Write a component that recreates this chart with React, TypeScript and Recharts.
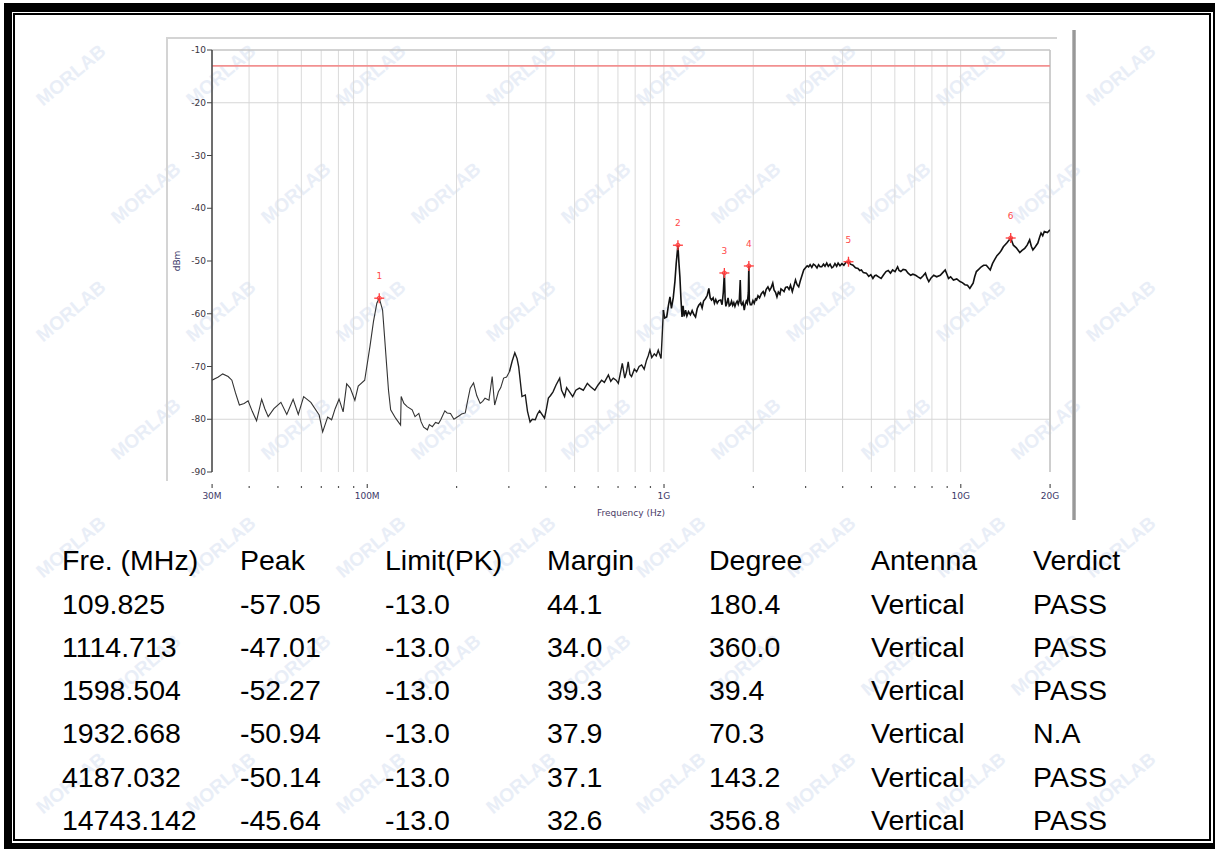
import React from "react";
import {
  ComposedChart,
  Line,
  Scatter,
  XAxis,
  YAxis,
  CartesianGrid,
  ReferenceLine,
  Label,
} from "recharts";

// spectrum trace: [frequency MHz, level dBm]
const TRACE_LOW: [number, number][] = [
  [30, -72.6], [31.5, -72.0], [32.6, -71.4], [34, -71.9], [35, -72.6], [36, -75.0],
  [37.1, -77.3], [38.5, -77.0], [39.7, -76.5], [41, -78.5], [42.4, -80.3], [44.1, -76.2],
  [45.2, -78.0], [46.4, -79.5], [48.5, -78.0], [51.2, -76.8], [53.6, -79.1], [56.3, -76.2],
  [58.6, -79.1], [61.1, -75.7], [64.6, -76.8], [68.9, -79.2], [70.8, -82.4], [73.6, -79.6],
  [75.9, -80.1], [78, -78.0], [80.4, -76.2], [83, -78.6], [85.3, -73.3], [87.7, -74.1],
  [90.9, -76.4], [93.3, -73.7], [98.1, -72.6], [102.2, -66.2], [105, -61.5], [107.8, -58.0],
  [109.825, -57.05], [112.7, -59.3], [114.5, -64.5], [116.4, -70.0], [118, -74.5], [120, -78.2],
  [124.7, -79.8], [129.6, -81.1], [130.2, -75.7], [133, -77.0], [136.4, -77.6], [141.8, -78.2],
  [145, -79.5], [149.3, -78.9], [152, -80.5], [155, -81.5], [159.6, -82.0], [162, -81.0],
  [165.8, -81.4], [170, -80.6], [174, -80.8], [177, -80.1], [182.7, -78.4], [186, -78.8],
  [190.9, -78.9], [196, -80.0], [203.6, -79.4], [208, -79.0], [214.1, -78.8], [218, -76.5],
  [222.5, -74.1], [228.3, -73.1], [234, -75.5], [240.3, -77.0], [245, -76.6], [249.5, -76.0],
  [257.3, -76.4], [263.8, -71.9], [268.9, -77.3], [276.8, -74.8], [282, -74.0], [288.3, -72.2],
  [295, -72.0], [301.6, -71.0],
];

const TRACE_MID: [number, number][] = [
  [301.6, -71.0], [308, -69.0], [314.5, -67.4], [320, -68.5], [324, -70.0],
  [332.4, -75.7], [341.1, -75.4], [347, -78.5], [354, -80.5], [360, -80.0], [368.6, -80.1],
  [375, -79.0], [381, -78.4], [396, -79.8], [402, -78.0], [408, -76.0], [415, -75.5],
  [423, -74.8], [433, -73.5], [445.4, -72.2], [452, -74.5], [462.6, -75.7], [470, -74.0],
  [480.7, -74.8], [492.7, -75.7], [505, -74.5], [519, -74.1], [535, -74.5], [552, -73.2],
  [565, -73.8], [585, -74.5], [600, -73.5], [616.6, -72.6], [630, -73.0], [650, -71.6],
  [662, -72.8], [675, -72.2], [690, -72.6], [702, -73.2], [712, -71.5], [724, -69.4],
  [738, -72.2], [748, -71.0], [758, -69.1], [768, -71.5], [778, -71.9], [795, -70.5],
  [809, -71.0], [825, -70.0], [841, -69.7], [858, -70.5], [874, -68.8], [885, -68.0],
  [897, -66.9], [910, -68.3], [928, -67.6], [942, -68.0], [957, -66.9], [978, -68.5],
  [985, -65.0], [996, -59.3],
];

const TRACE_HIGH: [number, number][] = [
  [996, -59.3], [1005, -60.8], [1022, -60.6], [1035, -58.5], [1048, -56.8], [1060, -59.0], [1075, -57.0],
  [1089, -53.9], [1100, -50.5], [1114.713, -47.01], [1124, -50.5], [1132, -53.0], [1142, -57.5],
  [1151, -60.6], [1160, -58.5], [1170, -60.5], [1183, -59.3], [1195, -60.4], [1210, -59.6],
  [1228, -60.2], [1245, -59.4], [1260, -60.1], [1278, -60.6], [1295, -59.0], [1310, -58.4],
  [1329, -58.0], [1345, -58.9], [1360, -57.6], [1381, -57.1], [1400, -56.5], [1417, -55.2],
  [1432, -57.0], [1447, -57.4], [1465, -57.0], [1480, -58.0], [1495, -57.3], [1512, -58.0],
  [1530, -57.5], [1553, -57.4], [1570, -58.3], [1585, -56.0], [1598.504, -52.27], [1608, -57.2],
  [1617, -58.6], [1630, -58.0], [1645, -57.0], [1660, -58.5], [1675, -58.3], [1690, -57.6],
  [1705, -58.4], [1720, -57.9], [1735, -58.6], [1749, -58.0], [1765, -57.6], [1780, -58.2],
  [1795, -57.5], [1808, -53.6], [1818, -58.0], [1830, -58.3], [1848, -57.8], [1865, -59.3],
  [1880, -58.2], [1895, -57.6], [1910, -58.0], [1925, -56.0], [1932.668, -50.94], [1940, -57.5],
  [1955, -58.3], [1975, -58.3], [1995, -57.5], [2015, -58.0], [2035, -57.2], [2052, -57.4],
  [2075, -56.6], [2100, -57.0], [2130, -56.2], [2160, -55.8], [2185, -56.5], [2210, -55.4],
  [2241, -54.9], [2270, -55.6], [2300, -55.0], [2327, -54.2], [2350, -55.5], [2380, -56.0],
  [2404, -56.8], [2430, -55.9], [2460, -56.3], [2480, -55.3], [2509, -55.5], [2540, -55.8],
  [2570, -55.0], [2606, -54.9], [2640, -55.4], [2670, -54.6], [2708, -55.8], [2740, -54.8],
  [2776, -53.6], [2810, -54.5], [2846, -54.9], [2880, -53.8], [2921, -52.7], [2959, -51.7],
  [3000, -51.3], [3040, -50.9], [3073, -51.1], [3110, -50.7], [3150, -51.2], [3190, -50.6],
  [3232, -50.8], [3280, -51.3], [3320, -50.7], [3360, -51.1], [3403, -51.1], [3450, -50.6],
  [3490, -51.0], [3537, -50.4], [3580, -51.0], [3630, -50.6], [3680, -51.3], [3721, -51.1],
  [3770, -50.5], [3820, -51.0], [3864, -50.4], [3920, -50.9], [3980, -50.5], [4040, -50.8],
  [4100, -50.3], [4187.032, -50.14], [4250, -50.6], [4338, -50.8], [4420, -51.3], [4509, -51.4],
  [4570, -51.8], [4629, -51.7], [4700, -52.2], [4810, -52.3], [4900, -52.9], [4980, -52.6],
  [5061, -53.3], [5130, -52.8], [5192, -52.7], [5290, -53.0], [5394, -53.3], [5500, -52.6],
  [5603, -52.0], [5700, -51.8], [5800, -52.3], [5898, -51.7], [6010, -52.0], [6130, -51.1],
  [6200, -51.8], [6285, -52.0], [6400, -51.6], [6528, -51.7], [6650, -52.3], [6783, -52.7],
  [6900, -52.5], [7049, -52.7], [7180, -53.0], [7322, -53.3], [7450, -52.9], [7607, -52.3],
  [7700, -53.2], [7809, -53.9], [7950, -53.2], [8113, -52.7], [8300, -53.0], [8536, -52.7],
  [8700, -52.2], [8869, -51.7], [9000, -52.6], [9099, -53.3], [9250, -53.0], [9453, -53.6],
  [9700, -53.4], [9948, -53.9], [10130, -54.1], [10335, -54.5], [10540, -54.6], [10737, -55.2],
  [10900, -54.6], [11016, -54.2], [11150, -53.0], [11298, -52.0], [11500, -51.6], [11738, -51.1],
  [11950, -50.8], [12198, -50.8], [12400, -51.3], [12578, -51.7], [12800, -50.5], [13002, -49.8],
  [13250, -49.0], [13508, -48.5], [13700, -48.0], [13926, -47.3], [14300, -46.6], [14743.142, -45.64],
  [15052, -47.0], [15400, -47.5], [15822, -48.4], [16100, -48.0], [16440, -47.6], [16750, -47.0],
  [17080, -46.0], [17300, -47.2], [17513, -47.9], [17850, -47.3], [18198, -46.6], [18450, -45.5],
  [18660, -44.7], [18900, -45.2], [19140, -44.4], [19600, -44.6], [20000, -44.1],
];

const GRID_FREQS = [
  30, 40, 50, 60, 70, 80, 90, 100, 200, 300, 400, 500, 600, 700, 800, 900,
  1000, 2000, 3000, 4000, 5000, 6000, 7000, 8000, 9000, 10000, 20000,
];
const X_LABELS: Record<number, string> = {
  30: "30M",
  100: "100M",
  1000: "1G",
  10000: "10G",
  20000: "20G",
};
const Y_TICKS = [-90, -80, -70, -60, -50, -40, -30, -20, -10];
const H_GRID = [-20, -80];
const LIMIT_DBM = -13;

const MARKER_FREQ = [109.825, 1114.713, 1598.504, 1932.668, 4187.032, 14743.142];
const MARKER_PEAK = [-57.05, -47.01, -52.27, -50.94, -50.14, -45.64];

const TABLE_HEAD = ["Fre. (MHz)", "Peak", "Limit(PK)", "Margin", "Degree", "Antenna", "Verdict"];
const COL_FREQ = ["109.825", "1114.713", "1598.504", "1932.668", "4187.032", "14743.142"];
const COL_PEAK = ["-57.05", "-47.01", "-52.27", "-50.94", "-50.14", "-45.64"];
const COL_LIMIT = ["-13.0", "-13.0", "-13.0", "-13.0", "-13.0", "-13.0"];
const COL_MARGIN = ["44.1", "34.0", "39.3", "37.9", "37.1", "32.6"];
const COL_DEGREE = ["180.4", "360.0", "39.4", "70.3", "143.2", "356.8"];
const COL_ANT = ["Vertical", "Vertical", "Vertical", "Vertical", "Vertical", "Vertical"];
const COL_VERDICT = ["PASS", "PASS", "PASS", "N.A", "PASS", "PASS"];

const COL_X = [62, 240, 385, 547, 709, 871, 1033];
const ROW_Y = [560, 604, 647, 690, 733, 777, 820];

const toPoints = (arr: [number, number][]) => arr.map(([f, level]) => ({ f, level }));
const lowData = toPoints(TRACE_LOW);
const midData = toPoints(TRACE_MID);
const highData = toPoints(TRACE_HIGH);
const markerData = MARKER_FREQ.map((f, i) => ({ f, level: MARKER_PEAK[i], n: i + 1 }));

const CHART_FONT = '"DejaVu Sans", sans-serif';

const MarkerShape = (props: any) => {
  const { cx, cy, payload } = props;
  if (cx == null || cy == null) return null;
  return (
    <g>
      <line x1={cx - 5} x2={cx + 5} y1={cy} y2={cy} stroke="#ff3b3b" strokeWidth={1.3} />
      <line x1={cx} x2={cx} y1={cy - 5} y2={cy + 5} stroke="#ff3b3b" strokeWidth={1.3} />
      <circle cx={cx} cy={cy} r={2} fill="none" stroke="#ff3b3b" strokeWidth={1} />
      <text x={cx} y={cy - 19} textAnchor="middle" fontSize={9} fill="#ff4a4a" fontFamily={CHART_FONT}>
        {payload?.n}
      </text>
    </g>
  );
};

const XTick = (props: any) => {
  const { x, y, payload } = props;
  const label = X_LABELS[payload.value];
  return (
    <g>
      <rect x={x - 0.5} y={y + (label ? 12 : 14)} width={1.2} height={label ? 4 : 2} fill="#555" />
      {label && (
        <text x={x} y={y + 27} textAnchor="middle" fontSize={9} fill="#3b3868" fontFamily={CHART_FONT}>
          {label}
        </text>
      )}
    </g>
  );
};

const FreqLabel = ({ viewBox }: any) => {
  const { x, width } = viewBox;
  return (
    <text x={x + width / 2} y={516} textAnchor="middle" fontSize={9} fill="#4a3b66" fontFamily={CHART_FONT}>
      Frequency (Hz)
    </text>
  );
};

const DbmLabel = ({ viewBox }: any) => {
  const { y, height } = viewBox;
  const cy = y + height / 2;
  return (
    <text
      x={180}
      y={cy}
      transform={`rotate(-90, 180, ${cy})`}
      textAnchor="middle"
      fontSize={9}
      fill="#3b3868"
      fontFamily={CHART_FONT}
    >
      dBm
    </text>
  );
};

// faint diagonal company watermark, kept inside the frame
const Watermarks = () => {
  const marks = [];
  for (let r = 0; r < 7; r++) {
    for (let c = 0; c < 8; c++) {
      const x = 75 + c * 150 + (r % 2) * 75;
      const y = 80 + r * 118;
      if (x > 1150 || y > 800) continue;
      marks.push(
        <text
          key={`${r}-${c}`}
          x={x}
          y={y}
          transform={`rotate(-40, ${x}, ${y})`}
          textAnchor="middle"
          fontSize={19}
          fontWeight="bold"
          fill="#e9eef7"
          fontFamily='"Liberation Sans", Arial, sans-serif'
        >
          MORLAB
        </text>
      );
    }
  }
  return (
    <svg width={1215} height={849} style={{ position: "absolute", left: 0, top: 0 }}>
      {marks}
    </svg>
  );
};

const TABLE_ROWS = COL_FREQ.map((f, i) => [
  f,
  COL_PEAK[i],
  COL_LIMIT[i],
  COL_MARGIN[i],
  COL_DEGREE[i],
  COL_ANT[i],
  COL_VERDICT[i],
]);

export default function App() {
  const rows = [TABLE_HEAD, ...TABLE_ROWS];
  return (
    <div
      style={{
        position: "absolute",
        left: 0,
        top: 0,
        width: 1215,
        height: 849,
        overflow: "hidden",
        background: "#fff",
      }}
    >
      {/* outer thick frame */}
      <div style={{ position: "absolute", left: 4, top: 3, width: 1211, height: 846, background: "#000" }} />
      <div style={{ position: "absolute", left: 12, top: 12, width: 1201, height: 831, background: "#fff" }} />
      <div
        style={{
          position: "absolute",
          left: 13,
          top: 13,
          width: 1194,
          height: 824,
          border: "2px solid #000",
        }}
      />
      <Watermarks />

      {/* frame of the analyser screenshot */}
      <div style={{ position: "absolute", left: 166, top: 37, width: 891, height: 2, background: "#d4d4d4" }} />
      <div style={{ position: "absolute", left: 166, top: 37, width: 2, height: 444, background: "#d4d4d4" }} />
      <div
        style={{
          position: "absolute",
          left: 1072,
          top: 30,
          width: 4,
          height: 490,
          background: "linear-gradient(90deg, #c8c8c8, #8a8a8a, #c0c0c0)",
        }}
      />

      <div style={{ position: "absolute", left: 0, top: 0 }}>
        <ComposedChart
          width={1215}
          height={530}
          margin={{ top: 50, right: 165, bottom: 8, left: 172 }}
        >
          <CartesianGrid vertical={true} horizontal={false} stroke="#dadada" strokeWidth={1} />
          <XAxis
            dataKey="f"
            type="number"
            scale="log"
            domain={[30, 20000]}
            ticks={GRID_FREQS}
            interval={0}
            allowDataOverflow
            axisLine={false}
            tickLine={false}
            tickSize={0}
            tickMargin={0}
            height={50}
            tick={<XTick />}
          >
            <Label content={<FreqLabel />} />
          </XAxis>
          <YAxis
            type="number"
            domain={[-90, -10]}
            ticks={Y_TICKS}
            interval={0}
            width={40}
            axisLine={{ stroke: "#444", strokeWidth: 1.5 }}
            tickLine={{ stroke: "#444" }}
            tickSize={5}
            tickMargin={1}
            tick={{ fontSize: 9, fill: "#3a3340", fontFamily: CHART_FONT }}
          >
            <Label content={<DbmLabel />} />
          </YAxis>
          {H_GRID.map((v) => (
            <ReferenceLine key={v} y={v} stroke="#d6d6d6" strokeWidth={1} />
          ))}
          <ReferenceLine y={-10} stroke="#c4c4c4" strokeWidth={1.5} />
          <ReferenceLine x={20000} stroke="#c4c4c4" strokeWidth={1.5} />
          <ReferenceLine y={LIMIT_DBM} stroke="#f29090" strokeWidth={1.6} />
          <Line
            data={lowData}
            type="linear"
            dataKey="level"
            stroke="#333"
            strokeWidth={1.1}
            dot={false}
            isAnimationActive={false}
          />
          <Line
            data={midData}
            type="linear"
            dataKey="level"
            stroke="#1a1a1a"
            strokeWidth={1.4}
            dot={false}
            isAnimationActive={false}
          />
          <Line
            data={highData}
            type="linear"
            dataKey="level"
            stroke="#111"
            strokeWidth={1.6}
            dot={false}
            isAnimationActive={false}
          />
          <Scatter
            data={markerData}
            dataKey="level"
            shape={<MarkerShape />}
            isAnimationActive={false}
          />
        </ComposedChart>
      </div>

      {/* results table */}
      {rows.map((row, r) =>
        row.map((cell, c) => (
          <div
            key={`${r}-${c}`}
            style={{
              position: "absolute",
              left: COL_X[c],
              top: ROW_Y[r] - 16,
              lineHeight: "32px",
              fontSize: 28.5,
              fontFamily: '"Liberation Sans", Arial, sans-serif',
              color: "#000",
              whiteSpace: "nowrap",
            }}
          >
            {cell}
          </div>
        ))
      )}
    </div>
  );
}
